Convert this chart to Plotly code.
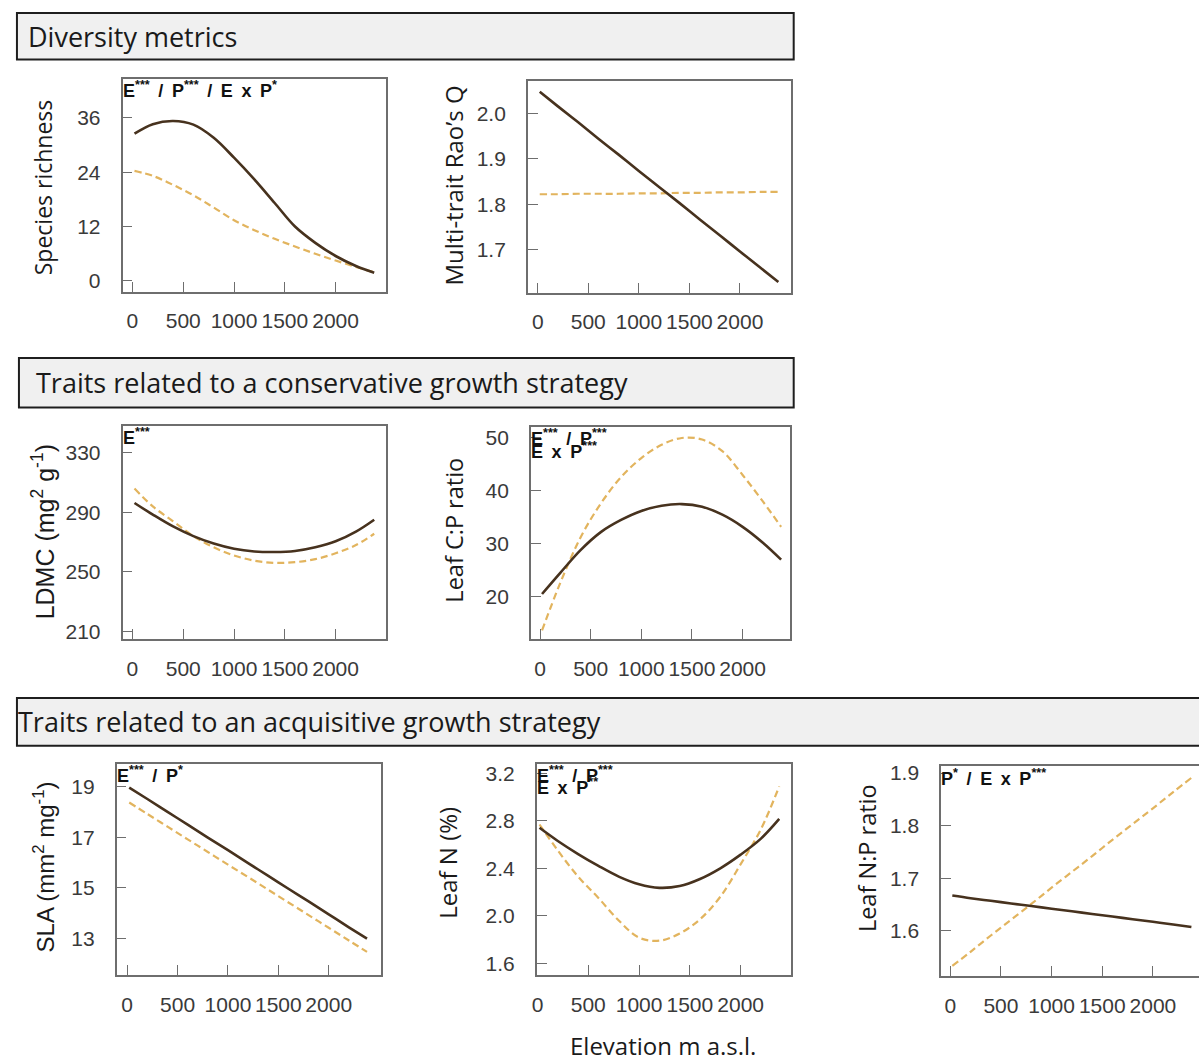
import plotly.graph_objects as go

W, H = 1199, 1061

# Elevation grid (m a.s.l.) at which the fitted curves are read
elevation = [20, 200, 400, 600, 800, 1000, 1200, 1400, 1600, 1800, 2000, 2200, 2380]

# Fitted values: solid = first land-use level, dashed = second
richness_solid = [32.5, 34.6, 35.3, 34.5, 31.6, 27.2, 22.4, 17.2, 12.0, 8.4, 5.5, 3.3, 1.8]
richness_dash = [24.3, 23.2, 21.2, 18.9, 16.2, 13.4, 11.2, 9.3, 7.6, 6.0, 4.5, 3.1, 1.9]

raoq_solid = [2.047, 2.015, 1.980, 1.944, 1.909, 1.873, 1.838, 1.803, 1.767, 1.732, 1.696, 1.661, 1.629]
raoq_dash = [1.822, 1.822, 1.823, 1.823, 1.823, 1.824, 1.824, 1.825, 1.825, 1.826, 1.826, 1.827, 1.827]

ldmc_solid = [296.3, 288.5, 280.5, 274.0, 269.0, 265.5, 263.7, 263.3, 264.0, 266.5, 270.5, 277.0, 285.0]
ldmc_dash = [306.0, 294.0, 284.0, 274.0, 266.5, 261.0, 257.5, 256.0, 256.5, 258.5, 262.5, 268.0, 275.6]

cp_solid = [20.5, 24.5, 28.8, 32.2, 34.5, 36.2, 37.2, 37.5, 37.0, 35.5, 33.2, 30.2, 27.0]
cp_dash = [13.6, 22.6, 31.2, 37.6, 42.6, 46.2, 48.7, 50.0, 49.7, 47.5, 43.0, 38.0, 33.2]

sla_solid = [18.96, 18.51, 18.00, 17.50, 16.99, 16.49, 15.98, 15.48, 14.97, 14.47, 13.96, 13.45, 13.00]
sla_dash = [18.37, 17.92, 17.42, 16.92, 16.42, 15.92, 15.43, 14.93, 14.43, 13.93, 13.43, 12.93, 12.48]

leafn_solid = [2.741, 2.63, 2.52, 2.42, 2.33, 2.265, 2.235, 2.25, 2.31, 2.40, 2.515, 2.65, 2.816]
leafn_dash = [2.769, 2.55, 2.33, 2.15, 1.96, 1.815, 1.79, 1.85, 1.97, 2.16, 2.434, 2.73, 3.09]

np_solid = [1.667, 1.662, 1.657, 1.652, 1.647, 1.642, 1.637, 1.632, 1.627, 1.622, 1.617, 1.612, 1.607]
np_dash = [1.533, 1.560, 1.591, 1.621, 1.651, 1.682, 1.712, 1.742, 1.773, 1.803, 1.833, 1.864, 1.891]

x_ticks = [0, 500, 1000, 1500, 2000]

SOLID = "#47321e"
DASH = "#e2b45e"
FRAME = "#6e6e6e"
TICKFONT = dict(family="Liberation Sans, Arial", size=21, color="#3a3a3a")
TITLEFONT = "Open Sans"
ARIAL = "Liberation Sans, Arial"
SP = "\u00a0\u2009"  # slightly widened gap between terms of the model labels


def fx(px):
    return px / W


def fy(py):
    return 1 - py / H


def star(s):
    return "<sup>" + s + "</sup>"


def sep():
    return SP + "/" + SP


EXP = "E" + SP + "x" + SP + "P"

# Panel definitions: box in pixels, axis ranges, ticks, curves, y title, stats labels
panels = [
    dict(box=(118, 75, 383, 289), xr=[-98, 2500], yr=[-2.35, 44.5], yt=[0, 12, 24, 36], fmt="",
         s=richness_solid, d=richness_dash, title="Species richness", tfont=TITLEFONT, tsize=23,
         tx=39, ty=184, stats=["E" + star("***") + sep() + "P" + star("***") + sep() + EXP + star("*")]),
    dict(box=(525, 77, 789, 290), xr=[-98, 2502], yr=[1.606, 2.07], yt=[1.7, 1.8, 1.9, 2.0], fmt=".1f",
         s=raoq_solid, d=raoq_dash, title="Multi-trait Rao\u2019s Q", tfont=TITLEFONT, tsize=24,
         tx=450, ty=182, stats=[]),
    dict(box=(118, 425, 383, 639), xr=[-98, 2500], yr=[205.1, 347.8], yt=[210, 250, 290, 330], fmt="",
         s=ldmc_solid, d=ldmc_dash, title="LDMC (mg<sup>2</sup> g<sup>-1</sup>)", tfont=ARIAL,
         tsize=25, tx=39, ty=531, stats=["E" + star("***")]),
    dict(box=(528, 426, 788, 639), xr=[-91, 2465], yr=[12.07, 52], yt=[20, 30, 40, 50], fmt="",
         s=cp_solid, d=cp_dash, title="Leaf C:P ratio", tfont=TITLEFONT, tsize=23.5,
         tx=450, ty=530, stats=["E" + star("***") + sep() + "P" + star("***"), EXP + star("***")]),
    dict(box=(112, 765, 378, 978), xr=[-106, 2523], yr=[11.58, 19.91], yt=[13, 15, 17, 19], fmt="",
         s=sla_solid, d=sla_dash, title="SLA (mm<sup>2</sup> mg<sup>-1</sup>)", tfont=ARIAL,
         tsize=24, tx=39, ty=869, stats=["E" + star("***") + sep() + "P" + star("*")]),
    dict(box=(534, 765, 789, 978), xr=[-7, 2493], yr=[1.503, 3.283], yt=[1.6, 2.0, 2.4, 2.8, 3.2], fmt=".1f",
         s=leafn_solid, d=leafn_dash, title="Leaf N (%)", tfont=TITLEFONT, tsize=24,
         tx=445, ty=865, stats=["E" + star("***") + sep() + "P" + star("***"), EXP + star("**")]),
    dict(box=(940, 768, 1199, 979), xr=[-91, 2455], yr=[1.5145, 1.9126], yt=[1.6, 1.7, 1.8, 1.9], fmt=".1f",
         s=np_solid, d=np_dash, title="Leaf N:P ratio", tfont=TITLEFONT, tsize=23.5,
         tx=865, ty=860, stats=["P" + star("*") + sep() + EXP + star("***")], open_right=True),
]

fig = go.Figure()
layout = dict(
    width=W, height=H, margin=dict(l=0, r=0, t=0, b=0),
    paper_bgcolor="white", plot_bgcolor="white", showlegend=False,
)
annotations = []
shapes = []

for i, p in enumerate(panels, start=1):
    sfx = "" if i == 1 else str(i)
    x0, y0, x1, y1 = p["box"]
    fig.add_trace(go.Scatter(x=elevation, y=p["d"], mode="lines", line_shape="spline",
                             line=dict(color=DASH, width=2.2, dash="7px,4px"),
                             xaxis="x" + sfx, yaxis="y" + sfx, hoverinfo="skip"))
    fig.add_trace(go.Scatter(x=elevation, y=p["s"], mode="lines", line_shape="spline",
                             line=dict(color=SOLID, width=2.6),
                             xaxis="x" + sfx, yaxis="y" + sfx, hoverinfo="skip"))
    layout["xaxis" + sfx] = dict(
        domain=[fx(x0), min(1.0, fx(x1))], anchor="y" + sfx, range=p["xr"],
        tickvals=x_ticks, ticks="inside", ticklen=10, tickwidth=1.3, tickcolor=FRAME,
        showline=True, linecolor=FRAME, linewidth=1.5, mirror=True,
        showgrid=False, zeroline=False, tickfont=TICKFONT, tickangle=0,
        ticklabelstandoff=10, fixedrange=True,
    )
    layout["yaxis" + sfx] = dict(
        domain=[fy(y1), fy(y0)], anchor="x" + sfx, range=p["yr"],
        tickvals=p["yt"], tickformat=p["fmt"], ticks="inside", ticklen=10, tickwidth=1.3,
        tickcolor=FRAME, showline=True, linecolor=FRAME, linewidth=1.5,
        mirror=not p.get("open_right", False),
        showgrid=False, zeroline=False, tickfont=TICKFONT, tickangle=0,
        ticklabelstandoff=16, fixedrange=True,
    )
    # rotated y-axis title
    annotations.append(dict(
        x=fx(p["tx"]), y=fy(p["ty"]), xref="paper", yref="paper",
        text=p["title"], textangle=-90, showarrow=False, xanchor="center", yanchor="middle",
        font=dict(family=p["tfont"], size=p["tsize"], color="#1a1a1a"),
    ))
    # model-term significance labels in the top-left corner
    for k, line in enumerate(p["stats"]):
        annotations.append(dict(
            x=fx(x0 - 1), y=fy(y0 - 2 + k * 13), xref="paper", yref="paper",
            text="<b>" + line + "</b>", showarrow=False, xanchor="left", yanchor="top",
            font=dict(family=ARIAL, size=18, color="#111111"), borderpad=0,
        ))

# Section header bars
headers = [
    ("Diversity metrics", (12, 8, 792, 55), 21),
    ("Traits related to a conservative growth strategy", (14, 356, 792, 406), 29),
    ("Traits related to an acquisitive growth strategy", (12, 699, 1210, 747), 11),
]
for text, (hx0, hy0, hx1, hy1), tx in headers:
    shapes.append(dict(type="rect", xref="paper", yref="paper",
                       x0=fx(hx0), x1=fx(hx1), y0=fy(hy1), y1=fy(hy0),
                       fillcolor="#f0f0f0", line=dict(color="#1e1e1e", width=2), layer="below"))
    annotations.append(dict(
        x=fx(tx), y=fy((hy0 + hy1) / 2), xref="paper", yref="paper", text=text,
        showarrow=False, xanchor="left", yanchor="middle",
        font=dict(family=TITLEFONT, size=27, color="#1a1a1a"),
    ))

# Shared x-axis title
annotations.append(dict(
    x=fx(661), y=fy(1049), xref="paper", yref="paper", text="Elevation m a.s.l.",
    showarrow=False, xanchor="center", yanchor="middle",
    font=dict(family=TITLEFONT, size=24, color="#1a1a1a"),
))

layout["annotations"] = annotations
layout["shapes"] = shapes
fig.update_layout(**layout)
fig.write_html("out.html")
